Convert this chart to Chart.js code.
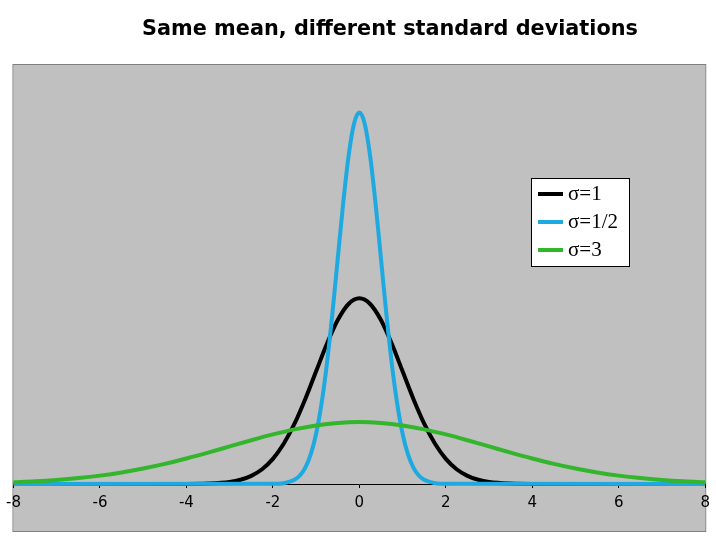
<!DOCTYPE html>
<html>
<head>
<meta charset="utf-8">
<script src="https://cdn.jsdelivr.net/npm/chart.js@4/dist/chart.umd.min.js"></script>
<style>
  html, body { margin: 0; padding: 0; background: #ffffff; }
  #wrap { width: 716px; height: 540px; }
</style>
</head>
<body>
<div id="wrap"><canvas id="chart" width="716" height="540"></canvas></div>
<script>
// values
const chartTitle = "Same mean, different standard deviations";
const seriesLabels = ["σ=1", "σ=1/2", "σ=3"];
const xTicks = [-8, -6, -4, -2, 0, 2, 4, 6, 8];

// sigma = 1
const sigma1X = [-8, -4, -3.5, -3, -2.75, -2.5, -2.25, -2, -1.75, -1.5, -1.25, -1, -0.75, -0.5, -0.25, 0,
  0.25, 0.5, 0.75, 1, 1.25, 1.5, 1.75, 2, 2.25, 2.5, 2.75, 3, 3.5, 4, 8];
const sigma1Y = [0, 0.0001, 0.0009, 0.0044, 0.0091, 0.0175, 0.0317, 0.054, 0.0863, 0.1295, 0.1826, 0.242, 0.3011, 0.3521, 0.3867, 0.3989,
  0.3867, 0.3521, 0.3011, 0.242, 0.1826, 0.1295, 0.0863, 0.054, 0.0317, 0.0175, 0.0091, 0.0044, 0.0009, 0.0001, 0];

// sigma = 1/2
const sigmaHalfX = [-8, -2, -1.75, -1.5, -1.375, -1.25, -1.125, -1, -0.875, -0.75, -0.625, -0.5, -0.375, -0.25, -0.125, 0,
  0.125, 0.25, 0.375, 0.5, 0.625, 0.75, 0.875, 1, 1.125, 1.25, 1.375, 1.5, 1.75, 2, 8];
const sigmaHalfY = [0, 0.0003, 0.0017, 0.0089, 0.0182, 0.0351, 0.0635, 0.108, 0.1726, 0.259, 0.3653, 0.4839, 0.6023, 0.7041, 0.7733, 0.7979,
  0.7733, 0.7041, 0.6023, 0.4839, 0.3653, 0.259, 0.1726, 0.108, 0.0635, 0.0351, 0.0182, 0.0089, 0.0017, 0.0003, 0];

// sigma = 3
const sigma3X = [-8, -7.5, -7, -6.5, -6, -5.5, -5, -4.5, -4, -3.5, -3, -2.5, -2, -1.5, -1, -0.5, 0,
  0.5, 1, 1.5, 2, 2.5, 3, 3.5, 4, 4.5, 5, 5.5, 6, 6.5, 7, 7.5, 8];
const sigma3Y = [0.0038, 0.0058, 0.0087, 0.0127, 0.018, 0.0248, 0.0332, 0.0432, 0.0547, 0.0673, 0.0807, 0.094, 0.1065, 0.1174, 0.1258, 0.1311, 0.133,
  0.1311, 0.1258, 0.1174, 0.1065, 0.094, 0.0807, 0.0673, 0.0547, 0.0432, 0.0332, 0.0248, 0.018, 0.0127, 0.0087, 0.0058, 0.0038];

const colors = ["#000000", "#1ea9e1", "#33b52c"];

function toPoints(xs, ys) {
  return xs.map((x, i) => ({ x: x, y: ys[i] }));
}

// gray plot area, title and the boxed legend
const decor = {
  id: "decor",
  beforeDraw(chart) {
    const ctx = chart.ctx;
    const a = chart.chartArea;
    ctx.save();
    ctx.fillStyle = "#c0c0c0";
    ctx.fillRect(a.left, a.top, a.right - a.left, 531 - a.top);
    ctx.strokeStyle = "#808080";
    ctx.lineWidth = 1;
    ctx.strokeRect(a.left - 0.5, a.top - 0.5, a.right - a.left + 1, 531 - a.top + 1);
    ctx.restore();
  },
  afterDraw(chart) {
    const ctx = chart.ctx;
    ctx.save();
    ctx.fillStyle = "#000000";
    ctx.font = "bold 20.8px 'DejaVu Sans', Verdana, sans-serif";
    ctx.textAlign = "center";
    ctx.textBaseline = "alphabetic";
    ctx.fillText(chartTitle, 390, 35);

    // legend box
    const bx = 531, by = 178, bw = 99, bh = 89;
    ctx.fillStyle = "#ffffff";
    ctx.fillRect(bx, by, bw, bh);
    ctx.strokeStyle = "#000000";
    ctx.lineWidth = 1;
    ctx.strokeRect(bx + 0.5, by + 0.5, bw - 1, bh - 1);
    ctx.font = "21px 'Liberation Serif', 'Times New Roman', serif";
    ctx.textAlign = "left";
    ctx.textBaseline = "middle";
    chart.data.datasets.forEach((ds, i) => {
      const y = 194 + i * 28;
      ctx.strokeStyle = ds.borderColor;
      ctx.lineWidth = 4;
      ctx.beginPath();
      ctx.moveTo(538, y);
      ctx.lineTo(563, y);
      ctx.stroke();
      ctx.fillStyle = "#000000";
      ctx.fillText(ds.label, 568, y);
    });
    ctx.restore();
  }
};

const ctx = document.getElementById("chart").getContext("2d");
const chart = new Chart(ctx, {
  type: "line",
  data: {
    datasets: [
      { label: seriesLabels[0], data: toPoints(sigma1X, sigma1Y), borderColor: colors[0], order: 3 },
      { label: seriesLabels[1], data: toPoints(sigmaHalfX, sigmaHalfY), borderColor: colors[1], order: 2 },
      { label: seriesLabels[2], data: toPoints(sigma3X, sigma3Y), borderColor: colors[2], order: 1 },
    ],
  },
  options: {
    responsive: false,
    animation: false,
    devicePixelRatio: 1,
    layout: { padding: { left: 13, right: 10, top: 65, bottom: 0 } },
    elements: {
      line: { borderWidth: 4, cubicInterpolationMode: "monotone", fill: false },
      point: { radius: 0 },
    },
    datasets: { line: { clip: false } },
    plugins: {
      legend: { display: false },
      title: { display: false },
      tooltip: { enabled: false },
    },
    scales: {
      x: {
        type: "linear",
        min: -8,
        max: 8,
        afterBuildTicks: (scale) => { scale.ticks = xTicks.map((v) => ({ value: v })); },
        afterFit: (scale) => { scale.height = 56; },
        ticks: {
          color: "#000000",
          padding: 6,
          maxRotation: 0,
          font: { family: "'DejaVu Sans', Verdana, sans-serif", size: 15 },
          callback: (v) => String(v),
        },
        grid: { drawOnChartArea: false, drawTicks: true, tickLength: 4, color: "#000000" },
        border: { display: true, color: "#000000", width: 1 },
      },
      y: {
        display: false,
        min: 0,
        max: 0.9,
      },
    },
  },
  plugins: [decor],
});
</script>
</body>
</html>
